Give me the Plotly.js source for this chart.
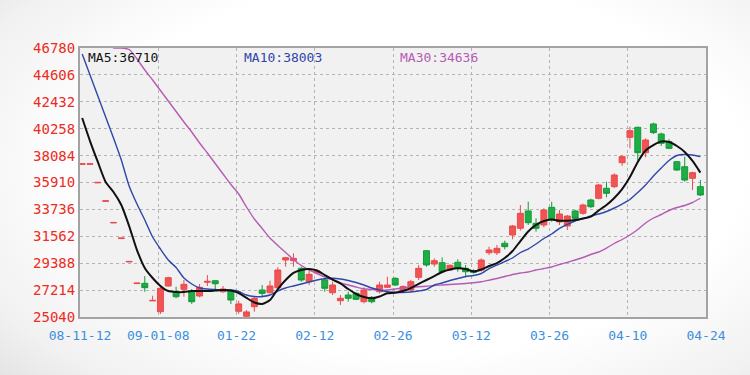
<!DOCTYPE html>
<html>
<head>
<meta charset="utf-8">
<script src="https://cdn.plot.ly/plotly-3.0.1.min.js"></script>
<style>
  html, body { margin:0; padding:0; width:750px; height:375px; overflow:hidden;
    background: radial-gradient(ellipse 80% 90% at 55% 45%, #ffffff 55%, #f1f1f1 80%, #dcdcdc 100%); }
  #chart { width:750px; height:375px; }
</style>
</head>
<body>
<div id="chart"></div>
<script>
// ---- tick labels ----
const xTickLabels = ['08-11-12','09-01-08','01-22','02-12','02-26','03-12','03-26','04-10','04-24'];
const yTickValues = [25040, 27214, 29388, 31562, 33736, 35910, 38084, 40258, 42432, 44606, 46780];

// ---- daily candles ----
const openP = [37380,37380,35880,34390,32640,31380,29490,27740,27760,26340,
  25470,27545,27036,27278,27084,26737,27850,27974,27084,27140,
  25500,25100,25873,27221,27003,27408,29646,29590,28973,27893,
  28600,28030,27003,26357,26818,26952,26276,26630,27084,27440,
  28165,27200,27221,28245,30397,29321,29429,28838,29460,28973,
  28780,28838,30236,30236,31000,31667,32208,33608,32610,32475,
  33904,32720,32394,33608,33420,34495,34632,35441,35575,37510,
  39558,40370,38320,40640,39830,39210,37590,37186,36250,35575];
const highP = [37430,37430,35930,34440,32690,31430,29540,27790,28350,26760,
  27600,28300,27488,28030,27300,27706,28434,28000,27545,27200,
  26350,25600,26737,27625,27975,29058,29900,30187,29106,28838,
  28900,28165,27893,26818,27084,27050,27440,26737,27893,28300,
  28250,27600,28030,29244,30450,29780,29860,29300,29700,29244,
  28900,29780,30725,30860,31210,32475,34090,34358,33016,33823,
  34358,33688,33284,33700,34200,34600,35800,35974,36650,38130,
  40420,40420,39480,40743,39940,39400,37650,38000,36785,36110];
const lowP = [37370,37370,35870,34380,32630,31370,29480,27730,27080,26330,
  25280,27500,26551,26680,26100,26630,27545,27278,26990,26090,
  25300,25040,25468,26630,26950,27221,29106,29106,27893,27625,
  28500,27084,26818,26010,26276,26400,26147,26147,26952,27380,
  27550,27100,27084,28030,29106,29106,28570,28780,28700,28245,
  28550,28702,30050,30050,30510,31320,32018,32475,31937,32286,
  32743,32475,32070,32900,33300,33850,34550,34714,35450,37260,
  38674,37672,37947,39830,38860,38600,36850,35974,35304,34820];
const closeP = [37420,37420,35920,34430,32680,31420,29530,27780,27410,26380,
  27360,28216,26680,27682,26276,27440,27920,27730,27301,26414,
  26100,25450,26550,26950,27545,28838,29832,29780,28030,28488,
  28750,27359,27625,26551,26551,26470,27221,26276,27625,27625,
  27625,27500,27893,28973,29244,29590,28702,29213,28973,28702,
  28650,29646,30454,30590,30725,32394,33420,32661,32208,33688,
  32935,33365,33200,33016,34090,33954,35710,35037,36516,37995,
  40096,38320,39345,39940,39076,38674,36920,36110,36704,34902];

// ---- moving averages ----
const MA5 = [41120,39260,37570,35950,35140,34090,32390,30450,29000,28190,
  27550,27140,27060,27060,27140,27140,27140,27180,27220,27180,
  26980,26580,26210,26090,26410,27300,28030,28600,28840,28920,
  28800,28430,28070,27750,27300,26900,26660,26550,26700,26960,
  27000,27140,27380,27710,28030,28350,28680,28880,28980,28920,
  28720,28880,29160,29400,29810,30370,31180,31950,32480,32800,
  32920,32820,32820,32880,33000,33160,33650,34090,34660,35380,
  36350,37570,38500,38940,39220,39180,38860,38380,37650,36710];
const MA10 = [46295,44598,42901,41203,39506,37728,35627,34172,32879,31505,
  30535,29646,29040,28191,27706,27383,27302,27262,27222,27222,
  27100,26817,26696,26696,26817,27141,27383,27545,27706,27868,
  28030,28127,28167,28111,27989,27827,27625,27383,27222,27084,
  27044,27020,27060,27141,27262,27625,27787,27989,28151,28313,
  28393,28555,28959,29241,29524,29808,30252,30535,30939,31384,
  31747,32208,32532,32798,33000,33202,33364,33566,33849,34172,
  34536,35102,35708,36435,37082,37688,38092,38173,38132,38003];
const MA30 = [48000,47700,47400,47100,46800,46780,46659,45891,45002,44194,
  43345,42497,41648,40799,39991,39102,38294,37445,36597,35748,
  34980,33930,32960,32192,31424,30818,30252,29687,29202,28854,
  28555,28272,28046,27787,27625,27464,27319,27262,27222,27222,
  27302,27383,27448,27480,27520,27585,27625,27666,27706,27747,
  27803,27884,28014,28151,28313,28474,28596,28676,28838,28959,
  29080,29282,29460,29646,29848,30091,30293,30616,30980,31303,
  31667,32111,32636,33041,33324,33647,33889,34051,34293,34636];

const maNames = ['MA5', 'MA10', 'MA30'];
const maColors = ['#111111', '#2f47a8', '#b65bb4'];
const maSeries = [MA5, MA10, MA30];

const idx = openP.map((_, i) => i);
const X0 = -0.28;
const FONT = 'DejaVu Sans Mono';

const traces = [{
  type: 'candlestick',
  x: idx, open: openP, high: highP, low: lowP, close: closeP,
  increasing: { line: { color: '#ec4b4b', width: 1 }, fillcolor: '#f05555' },
  decreasing: { line: { color: '#139a3a', width: 1 }, fillcolor: '#1fae46' },
  whiskerwidth: 0,
  hoverinfo: 'skip',
  showlegend: false
}];
[2, 1, 0].forEach(k => {
  traces.push({
    type: 'scatter', mode: 'lines', x: idx, y: maSeries[k],
    line: { color: maColors[k], width: k === 0 ? 2 : 1.4, shape: 'spline', smoothing: 0.6 },
    hoverinfo: 'skip', showlegend: false
  });
});

const annX = [0.0096, 0.259, 0.508];
const annotations = maNames.map((n, k) => ({
  xref: 'paper', yref: 'paper', x: annX[k], y: 0.963,
  xanchor: 'left', yanchor: 'middle', showarrow: false,
  text: n + ':' + maSeries[k][maSeries[k].length - 1],
  font: { family: FONT, size: 13, color: maColors[k] }
}));

const layout = {
  width: 750, height: 375,
  margin: { l: 80, r: 44, t: 48, b: 58 },
  paper_bgcolor: 'rgba(0,0,0,0)',
  plot_bgcolor: '#f1f1f1',
  showlegend: false,
  boxgap: 0.24,
  boxgroupgap: 0,
  xaxis: {
    range: [X0, X0 + 80],
    tickmode: 'array',
    tickvals: xTickLabels.map((_, k) => X0 + 10 * k),
    ticktext: xTickLabels,
    showgrid: true, gridcolor: '#b4b4b4', griddash: 'dot', gridwidth: 1,
    showline: true, mirror: true, linecolor: '#a3a3a3', linewidth: 2,
    zeroline: false, ticks: '', ticklabelstandoff: 5,
    tickfont: { family: FONT, size: 13, color: '#3d8fdc' },
    rangeslider: { visible: false },
    fixedrange: true
  },
  yaxis: {
    range: [yTickValues[0], yTickValues[yTickValues.length - 1]],
    tickmode: 'array',
    tickvals: yTickValues,
    ticktext: yTickValues.map(String),
    showgrid: true, gridcolor: '#b4b4b4', griddash: 'dot', gridwidth: 1,
    showline: true, mirror: true, linecolor: '#a3a3a3', linewidth: 2,
    zeroline: false, ticks: '',
    tickfont: { family: FONT, size: 14, color: '#ee2b22' },
    fixedrange: true
  },
  annotations: annotations
};

Plotly.newPlot('chart', traces, layout, { staticPlot: true, displayModeBar: false });
</script>
</body>
</html>
